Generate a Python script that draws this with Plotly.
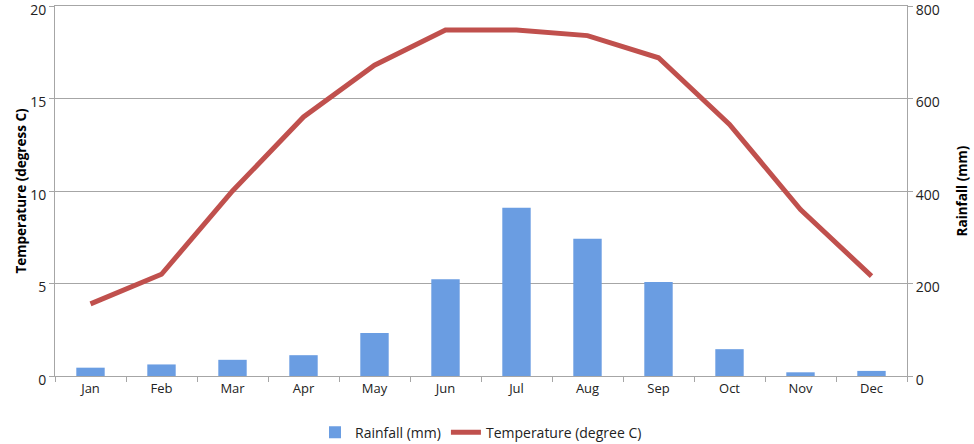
import plotly.graph_objects as go

months = ["Jan", "Feb", "Mar", "Apr", "May", "Jun", "Jul", "Aug", "Sep", "Oct", "Nov", "Dec"]
rainfall_mm = [18, 25, 35, 45, 93, 209, 364, 297, 203, 58, 8, 11]
temperature_c = [3.9, 5.5, 10.0, 14.0, 16.8, 18.7, 18.7, 18.4, 17.2, 13.6, 9.0, 5.4]
temp_ticks = [0, 5, 10, 15, 20]
rain_ticks = [0, 200, 400, 600, 800]

font_family = "Open Sans, Liberation Sans, sans-serif"
grid_color = "#a6a6a6"

fig = go.Figure()
fig.add_trace(go.Bar(
    x=months, y=rainfall_mm, name="Rainfall (mm)", yaxis="y2",
    marker=dict(color="#6a9de2", line=dict(width=0)),
))
fig.add_trace(go.Scatter(
    x=months, y=temperature_c, name="Temperature (degree C)", yaxis="y",
    mode="lines", line=dict(color="#c0504d", width=5),
))

fig.update_layout(
    width=974, height=444,
    margin=dict(l=55, r=67, t=6, b=68, autoexpand=False),
    paper_bgcolor="white", plot_bgcolor="white",
    font=dict(family=font_family, size=13, color="#222"),
    bargap=0.6,
    showlegend=True,
    legend=dict(orientation="h", x=0.5, xanchor="center", y=-0.11, yanchor="top",
                font=dict(size=14), traceorder="normal"),
    xaxis=dict(
        showgrid=False, showline=True, linecolor=grid_color, linewidth=1, mirror=True,
        ticks="outside", tickson="boundaries", ticklen=5, tickcolor=grid_color,
        tickfont=dict(size=13), automargin=False,
    ),
    yaxis=dict(
        title=dict(text="<b>Temperature (degress C)</b>", font=dict(size=13.5, family=font_family, color="#000"), standoff=0),
        range=[0, 20], tickmode="array", tickvals=temp_ticks,
        showgrid=True, gridcolor=grid_color, gridwidth=1,
        showline=True, linecolor=grid_color, ticks="outside", ticklen=5, tickcolor=grid_color,
        zeroline=False, tickfont=dict(size=14), automargin=False,
        ticklabeloverflow="allow", ticklabelshift=4,
    ),
    yaxis2=dict(
        title=dict(text="<b>Rainfall (mm)</b>", font=dict(size=13.5, family=font_family, color="#000"), standoff=18),
        range=[0, 800], tickmode="array", tickvals=rain_ticks,
        overlaying="y", side="right", showgrid=False,
        showline=True, linecolor=grid_color, ticks="outside", ticklen=5, tickcolor=grid_color,
        zeroline=False, tickfont=dict(size=14), automargin=False,
        ticklabeloverflow="allow", ticklabelshift=4,
    ),
)

fig.write_html("out.html", config={"displayModeBar": False},
               post_script="document.body.style.margin='0';")
